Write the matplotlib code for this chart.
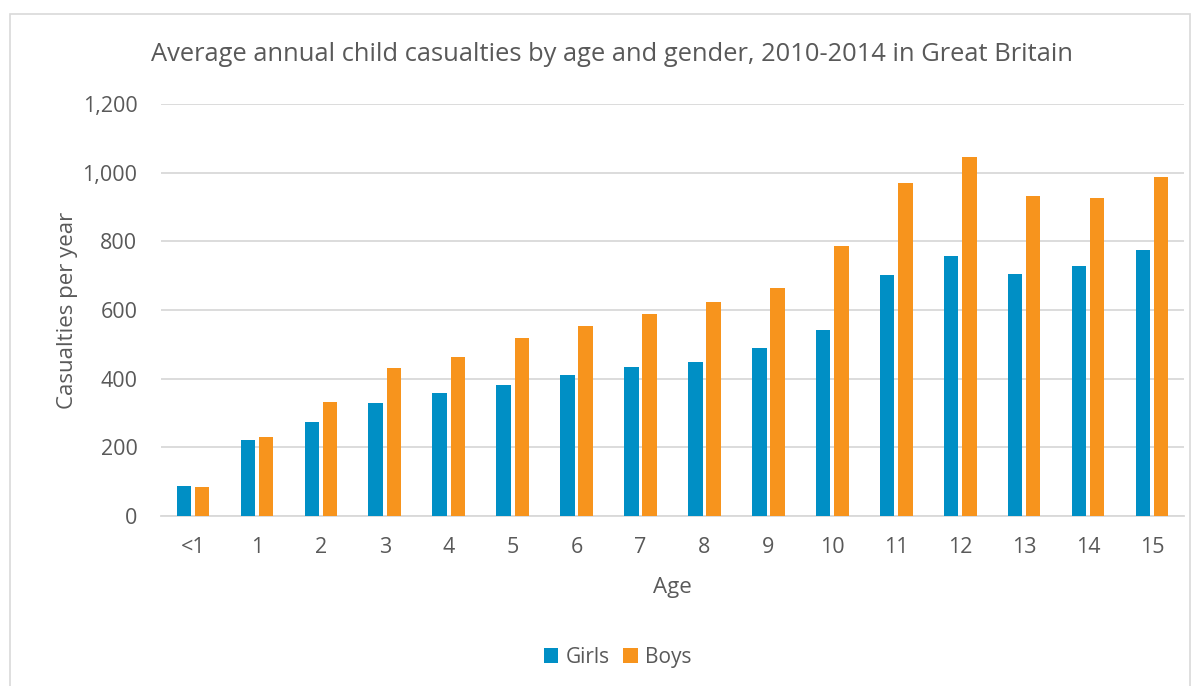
import matplotlib.pyplot as plt
import matplotlib.patches as mpatches
import numpy as np

ages = ['<1', '1', '2', '3', '4', '5', '6', '7', '8', '9', '10', '11', '12', '13', '14', '15']
girls = [87, 221, 274, 329, 358, 382, 411, 434, 449, 490, 542, 702, 757, 704, 727, 776]
boys = [85, 230, 331, 431, 464, 518, 552, 587, 623, 664, 786, 970, 1045, 931, 926, 986]

plt.rcParams['font.family'] = ['Open Sans', 'DejaVu Sans']
textColor = '#595959'
girlsColor = '#008FC5'
boysColor = '#F7941D'

fig = plt.figure(figsize=(12, 6.86), dpi=100)
ax = fig.add_axes([161/1200, 0.2478, 1023/1200, 0.6006])

# 外枠
fig.patches.append(mpatches.Rectangle((10/1200, -0.05), 1180/1200, 1 - 14/686 + 0.05,
                                      transform=fig.transFigure, fill=False,
                                      edgecolor='#D9D9D9', linewidth=1.2))

x = np.arange(len(ages))
w = 0.226
ax.bar(x - 0.142, girls, width=w, color=girlsColor, label='Girls', zorder=3)
ax.bar(x + 0.142, boys, width=w, color=boysColor, label='Boys', zorder=3)

ax.set_xlim(-0.5, len(ages) - 0.5)
ax.set_ylim(0, 1200)
ax.set_yticks(range(0, 1201, 200))
ax.set_yticklabels([f'{v:,}' for v in range(0, 1201, 200)])
ax.set_xticks(x)
ax.set_xticklabels(ages)
ax.grid(axis='y', color='#D9D9D9', linewidth=1.3, zorder=0)
for s in ['top', 'right', 'left']:
    ax.spines[s].set_visible(False)
ax.spines['bottom'].set_color('#D9D9D9')
ax.spines['bottom'].set_linewidth(1.3)
ax.tick_params(length=0, labelsize=15.5, colors=textColor, pad=15)
ax.tick_params(axis='y', pad=17)

ax.set_xlabel('Age', fontsize=16, color=textColor, labelpad=14)
ax.set_ylabel('Casualties per year', fontsize=16, color=textColor, labelpad=3)
fig.text(0.510, 0.920, 'Average annual child casualties by age and gender, 2010-2014 in Great Britain',
         ha='center', va='center', fontsize=18.4, color=textColor)

fig.legend(loc='center', bbox_to_anchor=(0.5146, 0.042), ncol=2, frameon=False,
           fontsize=15, labelcolor=textColor, handlelength=0.7, handleheight=0.7,
           handletextpad=0.35, columnspacing=0.65)

plt.savefig('out.png', dpi=100)
